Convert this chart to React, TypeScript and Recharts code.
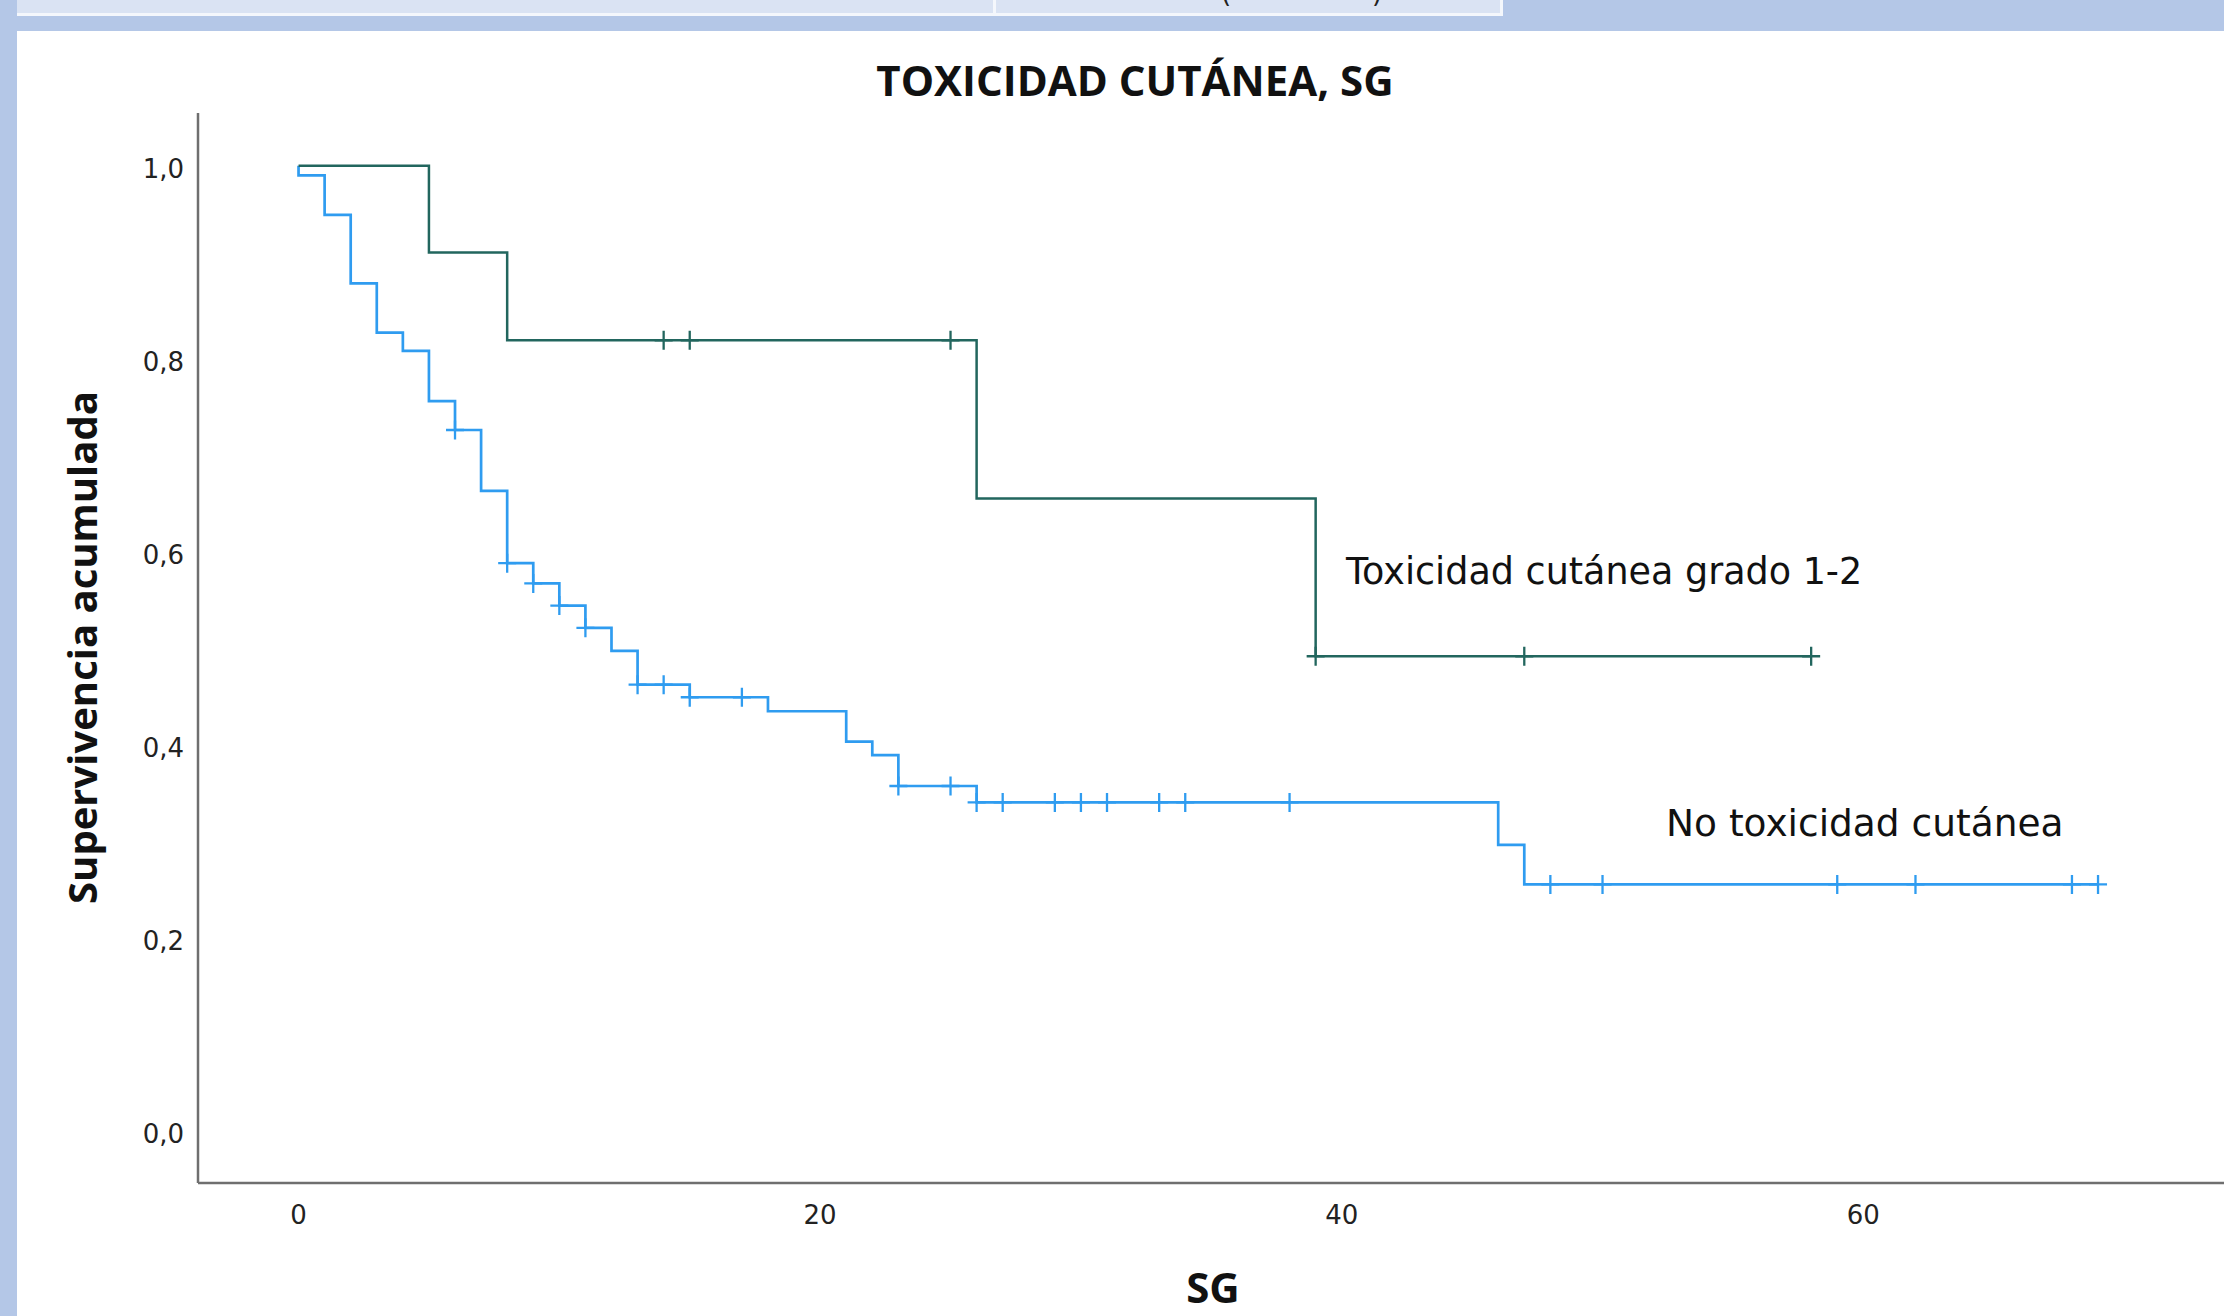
import { ComposedChart, Line, Scatter, XAxis, YAxis } from 'recharts'

// tiempos (meses) y supervivencia acumulada
const gradeTimes = [0, 5, 8, 26, 39, 58]
const gradeSurv = [1, 0.91, 0.819, 0.655, 0.4915, 0.4915]
const gradeCensored = [14, 15, 25, 39, 47, 58]

const noneTimes = [0, 0, 1, 2, 3, 4, 5, 6, 7, 8, 9, 10, 11, 12, 13, 15, 18, 21, 22, 23, 26, 46, 47, 69]
const noneSurv = [1, 0.99, 0.949, 0.878, 0.827, 0.808, 0.756, 0.726, 0.663, 0.588, 0.567, 0.544, 0.521, 0.497, 0.462, 0.449, 0.4345, 0.403, 0.389, 0.357, 0.34, 0.296, 0.255, 0.255]
const noneCensored = [6, 8, 9, 10, 11, 13, 14, 15, 17, 23, 25, 26, 27, 29, 30, 31, 33, 34, 38, 48, 50, 59, 62, 68, 69]

const xTicks = [0, 20, 40, 60]
const yTicks = [0, 0.2, 0.4, 0.6, 0.8, 1.0]

const GREEN = '#22665e'
const BLUE = '#2f9cf0'

const toRows = (times: number[], surv: number[]) => times.map((t, i) => ({ t, s: surv[i] }))

const survAt = (times: number[], surv: number[], t: number) => {
  let v = surv[0]
  times.forEach((tt, i) => {
    if (tt <= t) v = surv[i]
  })
  return v
}

const censorRows = (cens: number[], times: number[], surv: number[]) =>
  cens.map((t) => ({ t, s: survAt(times, surv, t) }))

const gradeData = toRows(gradeTimes, gradeSurv)
const noneData = toRows(noneTimes, noneSurv)
const gradeCens = censorRows(gradeCensored, gradeTimes, gradeSurv)
const noneCens = censorRows(noneCensored, noneTimes, noneSurv)

const plus = (color: string) => (props: any) => {
  const { cx, cy } = props
  return (
    <path
      d={`M${cx - 9},${cy}H${cx + 9}M${cx},${cy - 9.5}V${cy + 9.5}`}
      stroke={color}
      strokeWidth={2.3}
      fill="none"
    />
  )
}

const fmt = (v: number) => v.toFixed(1).replace('.', ',')

export default function App() {
  return (
    <div style={{ position: 'absolute', left: 0, top: 0, width: 2224, height: 1316, overflow: 'hidden', background: '#b4c7e7' }}>
      {/* trozo de tabla de arriba */}
      <div style={{ position: 'absolute', left: 17, top: 0, width: 976, height: 13, background: '#dae3f3' }} />
      <div style={{ position: 'absolute', left: 996, top: 0, width: 504, height: 13, background: '#dae3f3' }} />
      <div style={{ position: 'absolute', left: 17, top: 13, width: 1486, height: 3, background: '#f4f7fc' }} />
      <div style={{ position: 'absolute', left: 993, top: 0, width: 3, height: 13, background: '#f4f7fc' }} />
      <div style={{ position: 'absolute', left: 1500, top: 0, width: 3, height: 16, background: '#f4f7fc' }} />

      {/* panel blanco */}
      <div style={{ position: 'absolute', left: 17, top: 31, right: 0, bottom: 0, background: '#ffffff' }} />

      <div style={{ position: 'absolute', left: 0, top: 0 }}>
        <ComposedChart width={2224} height={1316} margin={{ top: 113, right: 0, left: 0, bottom: 73 }}>
          <XAxis
            dataKey="t"
            type="number"
            domain={[-3.855, 73.83]}
            ticks={xTicks}
            allowDataOverflow
            tickLine={false}
            tickSize={0}
            tickMargin={23}
            height={60}
            axisLine={{ stroke: '#6f6f6f', strokeWidth: 2.5 }}
            tick={{ fill: '#222', fontSize: 26, fontFamily: 'DejaVu Sans' }}
          />
          <YAxis
            type="number"
            domain={[-0.0545, 1.0546]}
            ticks={yTicks}
            allowDataOverflow
            tickFormatter={fmt}
            tickLine={false}
            tickSize={0}
            tickMargin={14}
            width={198}
            axisLine={{ stroke: '#6f6f6f', strokeWidth: 2.5 }}
            tick={{ fill: '#222', fontSize: 26, fontFamily: 'DejaVu Sans', dy: 3 }}
          />
          <Line
            data={noneData}
            dataKey="s"
            type="stepAfter"
            stroke={BLUE}
            strokeWidth={2.7}
            dot={false}
            isAnimationActive={false}
          />
          <Scatter data={noneCens} dataKey="s" shape={plus(BLUE)} isAnimationActive={false} />
          <Line
            data={gradeData}
            dataKey="s"
            type="stepAfter"
            stroke={GREEN}
            strokeWidth={2.5}
            dot={false}
            isAnimationActive={false}
          />
          <Scatter data={gradeCens} dataKey="s" shape={plus(GREEN)} isAnimationActive={false} />
        </ComposedChart>
      </div>

      <svg width={2224} height={1316} style={{ position: 'absolute', left: 0, top: 0, pointerEvents: 'none' }}>
        <text x={1221} y={2} fontFamily="DejaVu Sans" fontSize={26} fill="#222">(</text>
        <text x={1372} y={2} fontFamily="DejaVu Sans" fontSize={26} fill="#222">)</text>
        <text x={1135} y={96} textAnchor="middle" fontFamily="Open Sans" fontWeight={700} fontSize={42} fill="#111">
          TOXICIDAD CUTÁNEA, SG
        </text>
        <text
          x={97}
          y={647.5}
          transform="rotate(-90 97 647.5)"
          textAnchor="middle"
          fontFamily="Open Sans"
          fontWeight={700}
          fontSize={40}
          fill="#111"
        >
          Supervivencia acumulada
        </text>
        <text x={1213} y={1303} textAnchor="middle" fontFamily="Open Sans" fontWeight={700} fontSize={42} fill="#111">
          SG
        </text>
        <text x={1346} y={584} fontFamily="DejaVu Sans" fontSize={36.5} fill="#111">
          Toxicidad cutánea grado 1-2
        </text>
        <text x={1666} y={836} fontFamily="DejaVu Sans" fontSize={37.5} fill="#111">
          No toxicidad cutánea
        </text>
      </svg>
    </div>
  )
}
